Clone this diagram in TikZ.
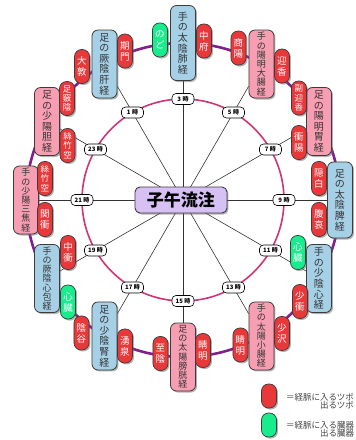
\documentclass[tikz,border=0pt]{standalone}
\usepackage{fontspec}
\setmainfont{Noto Sans CJK JP}
\usepackage{tikz}
\usetikzlibrary{calc, shadows, positioning, backgrounds}

\definecolor{keiblue}{RGB}{166,208,230}
\definecolor{keipink}{RGB}{248,158,178}
\definecolor{tsubored}{RGB}{232,56,58}
\definecolor{zogreen}{RGB}{24,236,140}
\definecolor{titlelila}{RGB}{214,192,244}
\definecolor{inring}{RGB}{208,52,118}
\definecolor{outring}{RGB}{128,32,138}
\definecolor{edge}{RGB}{60,60,60}

% texto vertical: um caractere por linha
\makeatletter
\def\tate#1{\tate@a#1\@nil}
\def\tate@a#1#2\@nil{#1\ifx\relax#2\relax\expandafter\@gobble\else\expandafter\@firstofone\fi{\\\tate@a#2\@nil}}
\makeatother

\tikzset{
  kage/.style={drop shadow={shadow xshift=1.5pt, shadow yshift=-1.5pt, fill=black!60, opacity=0.5}},
  keiraku/.style={kage, draw=edge, line width=0.8pt, rounded corners=6pt,
    minimum width=25pt, minimum height=68pt, inner sep=1pt, align=center,
    text=black!80, font=\fontsize{10}{10.6}\selectfont},
  yin/.style={keiraku, fill=keiblue},
  yang/.style={keiraku, fill=keipink},
  seven/.style={font=\fontsize{9}{9.2}\selectfont},
  tsubo/.style={kage, draw=edge, line width=0.7pt, fill=tsubored, rounded corners=7pt,
    minimum width=15pt, minimum height=34pt, inner sep=0.5pt, align=center,
    text=white, font=\fontsize{9.5}{11}\selectfont},
  zoki/.style={tsubo, fill=zogreen},
  trio/.style={font=\fontsize{8.5}{9.3}\selectfont},
  jikoku/.style={draw=black, line width=0.6pt, fill=white, rounded corners=4pt,
    minimum width=22pt, minimum height=11pt, inner sep=0.5pt,
    font=\fontsize{6}{6}\selectfont\bfseries},
  midashi/.style={kage, draw=edge, line width=0.9pt, fill=titlelila, rounded corners=5pt,
    minimum width=92pt, minimum height=26pt, font=\fontsize{17}{17}\selectfont\bfseries},
  spoke/.style={draw=black!80, line width=0.6pt},
  keytext/.style={align=right, inner sep=0pt, text=black!75, font=\fontsize{8.5}{8}\selectfont},
}

\begin{document}
\begin{tikzpicture}[x=1pt, y=1pt]
  \useasboundingbox (-183,-240) rectangle (173,200);
  \coordinate (hub) at (0,0);

  % meridianos
  \node (hai)    [yin, minimum height=75pt] at (90:157)   {\tate{手の太陰肺経}};
  \node (daicho) [yang, seven]              at (60:157)   {\tate{手の陽明大腸経}};
  \node (i)      [yang]                     at (30:157)   {\tate{足の陽明胃経}};
  \node (hi)     [yin, minimum height=76pt] at (0:157)    {\tate{足の太陰脾経}};
  \node (shin)   [yin]                      at (-30:157)  {\tate{手の少陰心経}};
  \node (shocho) [yang, seven]              at (-60:157)  {\tate{手の太陽小腸経}};
  \node (boko)   [yang, seven]              at (-90:157)  {\tate{足の太陽膀胱経}};
  \node (jin)    [yin]                      at (-120:157) {\tate{足の少陰腎経}};
  \node (shinpo) [yin, seven]               at (-150:157) {\tate{手の厥陰心包経}};
  \node (sansho) [yang, seven]              at (180:157)  {\tate{手の少陽三焦経}};
  \node (tan)    [yang]                     at (150:157)  {\tate{足の少陽胆経}};
  \node (kan)    [yin]                      at (120:157)  {\tate{足の厥陰肝経}};

  % pontos de entrada e saida
  \node (nodo)     [zoki]        at ($(hai)+(-23,3)$)        {\tate{のど}};
  \node (chufu)    [tsubo]       at ($(hai)+(21,2)$)         {\tate{中府}};
  \node (shoyo)    [tsubo]       at ($(daicho)+(-23,16)$)    {\tate{商陽}};
  \node (geiko)    [tsubo]       at ($(daicho)+(20.5,-2)$)   {\tate{迎香}};
  \node (fukugei)  [tsubo, trio] at ($(i)+(-20,23.5)$)       {\tate{副迎香}};
  \node (shoyob)   [tsubo]       at ($(i)+(-20,-21)$)        {\tate{衝陽}};
  \node (inpaku)   [tsubo]       at ($(hi)+(-21,21.5)$)      {\tate{隠白}};
  \node (fukuai)   [tsubo]       at ($(hi)+(-21,-19.5)$)     {\tate{腹哀}};
  \node (shinzo)   [zoki]        at ($(shin)+(-21,26)$)      {\tate{心臓}};
  \node (shosho)   [tsubo]       at ($(shin)+(-19,-23)$)     {\tate{少衝}};
  \node (shotaku)  [tsubo]       at ($(shocho)+(20.5,2.5)$)  {\tate{少沢}};
  \node (seimei)   [tsubo]       at ($(shocho)+(-21,-9)$)    {\tate{睛明}};
  \node (shiin)    [tsubo]       at ($(boko)+(-22.5,3.5)$)   {\tate{至陰}};
  \node (seimeib)  [tsubo]       at ($(boko)+(20,6.5)$)      {\tate{睛明}};
  \node (yusen)    [tsubo]       at ($(jin)+(20.5,-10)$)     {\tate{湧泉}};
  \node (inkoku)   [tsubo]       at ($(jin)+(-23,3)$)        {\tate{陰谷}};
  \node (chushob)  [tsubo]       at ($(shinpo)+(21,26)$)     {\tate{中衝}};
  \node (shinzob)  [zoki]        at ($(shinpo)+(21,-23.5)$)  {\tate{心臓}};
  \node (shichi)   [tsubo, trio] at ($(sansho)+(19,21.5)$)   {\tate{絲竹空}};
  \node (kansho)   [tsubo]       at ($(sansho)+(19,-19.5)$)  {\tate{関衝}};
  \node (kyoin)    [tsubo, trio] at ($(tan)+(20,23)$)        {\tate{足竅陰}};
  \node (shichib)  [tsubo, trio] at ($(tan)+(20.5,-24)$)     {\tate{絲竹空}};
  \node (kimon)    [tsubo]       at ($(kan)+(20.5,13)$)      {\tate{期門}};
  \node (daiton)   [tsubo]       at ($(kan)+(-22.5,-2.5)$)   {\tate{大敦}};

  % horas
  \foreach \h/\a in {1/120, 3/90, 5/60, 7/30, 9/0, 11/-30, 13/-60, 15/-90, 17/-120, 19/-150, 21/180, 23/150}
    \node (t\h) [jikoku] at (\a:101) {\h\ 時};

  \node (shigo) [midashi] at (-2,0) {子午流注};

  % aneis e raios
  \begin{scope}[on background layer]
    \draw[inring, line width=1.6pt] (hub) circle (101pt);
    \draw[outring, line width=2.6pt] (hub) circle (157pt);
    \foreach \k in {hai, daicho, i, hi, shin, shocho, boko, jin, shinpo, sansho, tan, kan}
      \draw[spoke] (hub) -- (\k);
  \end{scope}

  % legenda
  \node (redkey)   [tsubo, minimum height=24pt] at (86,-196) {};
  \node (greenkey) [zoki, minimum height=24pt]  at (86,-225) {};
  \node (redtext)   [keytext, right=9pt of redkey, yshift=-5pt]   {＝経脈に入るツボ\\出るツボ};
  \node (greentext) [keytext, right=9pt of greenkey, yshift=-4pt] {＝経脈に入る臓器\\出る臓器};
\end{tikzpicture}
\end{document}
